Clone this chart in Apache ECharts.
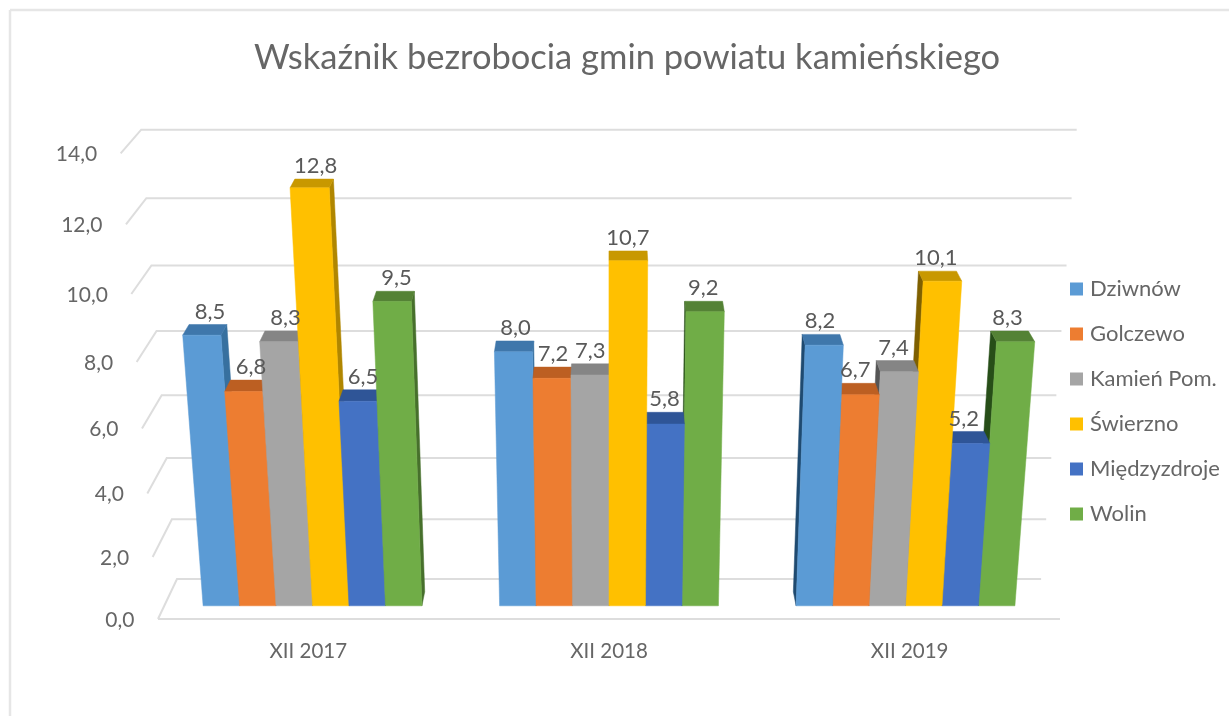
<!DOCTYPE html>
<html><head><meta charset="utf-8">
<style>html,body{margin:0;padding:0;background:#fff}#c{width:1229px;height:716px;filter:blur(0.7px)}</style>
<script src="https://cdn.jsdelivr.net/npm/echarts@6/dist/echarts.min.js"></script>
</head><body><div id="c"></div>
<script>
const titleText = 'Wskaźnik bezrobocia gmin powiatu kamieńskiego';
const categories = ['XII 2017', 'XII 2018', 'XII 2019'];
const seriesNames = ['Dziwnów', 'Golczewo', 'Kamień Pom.', 'Świerzno', 'Międzyzdroje', 'Wolin'];
const dziwnow = [8.5, 8.0, 8.2];
const golczewo = [6.8, 7.2, 6.7];
const kamien = [8.3, 7.3, 7.4];
const swierzno = [12.8, 10.7, 10.1];
const miedzyzdroje = [6.5, 5.8, 5.2];
const wolin = [9.5, 9.2, 8.3];
const valueTicks = [0, 2, 4, 6, 8, 10, 12, 14];
const tickLabels = ['0,0', '2,0', '4,0', '6,0', '8,0', '10,0', '12,0', '14,0'];
const allValues = [dziwnow, golczewo, kamien, swierzno, miedzyzdroje, wolin];

const colors = ['#5B9BD5', '#ED7D31', '#A5A5A5', '#FFC000', '#4472C4', '#70AD47'];
const topColors = ['#3F77AB', '#BC5F22', '#858585', '#C89800', '#2F5597', '#548235'];
const rightColors = ['#37709F', '#A8541C', '#707070', '#B08600', '#2A4C88', '#47702C'];
const leftColors = ['#1F4A70', '#7A3E12', '#555555', '#7F6000', '#1C3560', '#274E18'];
const TEXT = '#666666', GRID = '#DDDDDD', FONT = 'Lato, sans-serif';
const FLOOR_Y = 619, AXIS_H = 464, X0 = 610;
const BAR_D0 = 0.33, BAR_D1 = 0.68, BAR_W = 0.123;

// Projects a pixel of the flat cartesian grid into the chart's 3D perspective.
function project(px, py, d) {
  const t = (FLOOR_Y - py) / AXIS_H;
  const s = (1 + 0.0826 * t) * (1 - 0.042 * d);
  const h = (428.4 * t + 37.24 * t * t) * (1 - 0.035 * d);
  return [X0 + (px - X0) * s, FLOOR_Y - 40 * d - h];
}

function wallItem(params, api) {
  const v = api.value(0), label = tickLabels[params.dataIndex];
  const y = api.coord([0, v])[1];
  const size = api.size([1, 0])[0];
  const xL = api.coord([0, v])[0] - size / 2;
  const xR = api.coord([2, v])[0] + size / 2;
  const a = project(xL, y, 0), b = project(xL, y, 1), c = project(xR, y, 1);
  const children = [{
    type: 'polyline', silent: true,
    shape: { points: [a, b, c] },
    style: { stroke: GRID, lineWidth: 2, fill: null }
  }, {
    type: 'text', silent: true,
    style: { text: label, x: a[0] - 23.5, y: a[1] + 1, align: 'right', verticalAlign: 'middle', font: '21px ' + FONT, fill: TEXT }
  }];
  if (v === 0) {
    const f = project(xR, y, 0);
    children.push({ type: 'line', silent: true, shape: { x1: a[0], y1: a[1], x2: f[0], y2: f[1] }, style: { stroke: GRID, lineWidth: 2 } });
  }
  return { type: 'group', children };
}

function barItem(si) {
  return function (params, api) {
    const cat = api.value(0), v = api.value(1);
    const base = api.coord([cat, 0]), top = api.coord([cat, v]);
    const w = api.size([1, 0])[0] * BAR_W;
    const uL = base[0] + (si - 3) * w, uR = uL + w;
    const y0 = base[1], y1 = top[1];
    const fTL = project(uL, y1, BAR_D0), fTR = project(uR, y1, BAR_D0);
    const fBL = project(uL, y0, BAR_D0), fBR = project(uR, y0, BAR_D0);
    const bTL = project(uL, y1, BAR_D1), bTR = project(uR, y1, BAR_D1);
    const bBL = project(uL, y0, BAR_D1), bBR = project(uR, y0, BAR_D1);
    const z = Math.round(2000 - Math.abs((uL + uR) / 2 - X0) * 3);
    const face = (pts, col, o) => ({
      type: 'polygon', silent: true, z2: z + o,
      shape: { points: pts }, style: { fill: col, stroke: col, lineWidth: 0.5 }
    });
    const children = [];
    if (uR < X0) children.push(face([fTR, bTR, bBR, fBR], rightColors[si], 0));
    else if (uL > X0) children.push(face([fTL, bTL, bBL, fBL], leftColors[si], 0));
    children.push(face([fTL, fTR, bTR, bTL], topColors[si], 0));
    children.push(face([fBL, fBR, fTR, fTL], colors[si], 1));
    const anchor = project((uL + uR) / 2, y1, 0.8);
    children.push({
      type: 'text', silent: true, z2: 5000,
      style: {
        text: String(v.toFixed(1)).replace('.', ','),
        x: anchor[0], y: bTL[1] - 13, align: 'center', verticalAlign: 'middle',
        font: '22px ' + FONT, fill: '#595959'
      }
    });
    return { type: 'group', children };
  };
}

const series = [{
  type: 'custom', z: 1, silent: true, renderItem: wallItem,
  encode: { y: 0 }, data: valueTicks.map(v => [v]), tooltip: { show: false }
}].concat(seriesNames.map((name, si) => ({
  type: 'custom', name, z: 2, silent: true, renderItem: barItem(si),
  itemStyle: { color: colors[si] },
  encode: { x: 0, y: 1 },
  data: allValues[si].map((v, i) => [i, v])
})));

const chart = echarts.init(document.getElementById('c'), null, { renderer: 'canvas' });
chart.setOption({
  animation: false,
  backgroundColor: '#ffffff',
  title: {
    text: titleText, left: 622, top: 35, textAlign: 'center',
    textStyle: { fontFamily: FONT, fontSize: 34.5, fontWeight: 'normal', color: TEXT }
  },
  grid: { left: 158, right: 169, top: 155, bottom: 97 },
  xAxis: {
    type: 'category', data: categories,
    axisLine: { show: false }, axisTick: { show: false }, splitLine: { show: false },
    axisLabel: { margin: 22, fontFamily: FONT, fontSize: 20.5, color: TEXT }
  },
  yAxis: {
    type: 'value', min: 0, max: 14, interval: 2, show: false
  },
  legend: {
    orient: 'vertical', left: 1065, top: 273, data: seriesNames,
    icon: 'rect', itemWidth: 13, itemHeight: 13, itemGap: 23,
    textStyle: { fontFamily: FONT, fontSize: 22, color: TEXT, padding: [0, 0, 0, 2] },
    selectedMode: false
  },
  graphic: [
    { type: 'line', silent: true, shape: { x1: 10, y1: 10, x2: 10, y2: 716 }, style: { stroke: '#E6E6E6', lineWidth: 2.5 } },
    { type: 'line', silent: true, shape: { x1: 10, y1: 10, x2: 1229, y2: 10 }, style: { stroke: '#E6E6E6', lineWidth: 2.5 } }
  ],
  series
});
</script></body></html>
